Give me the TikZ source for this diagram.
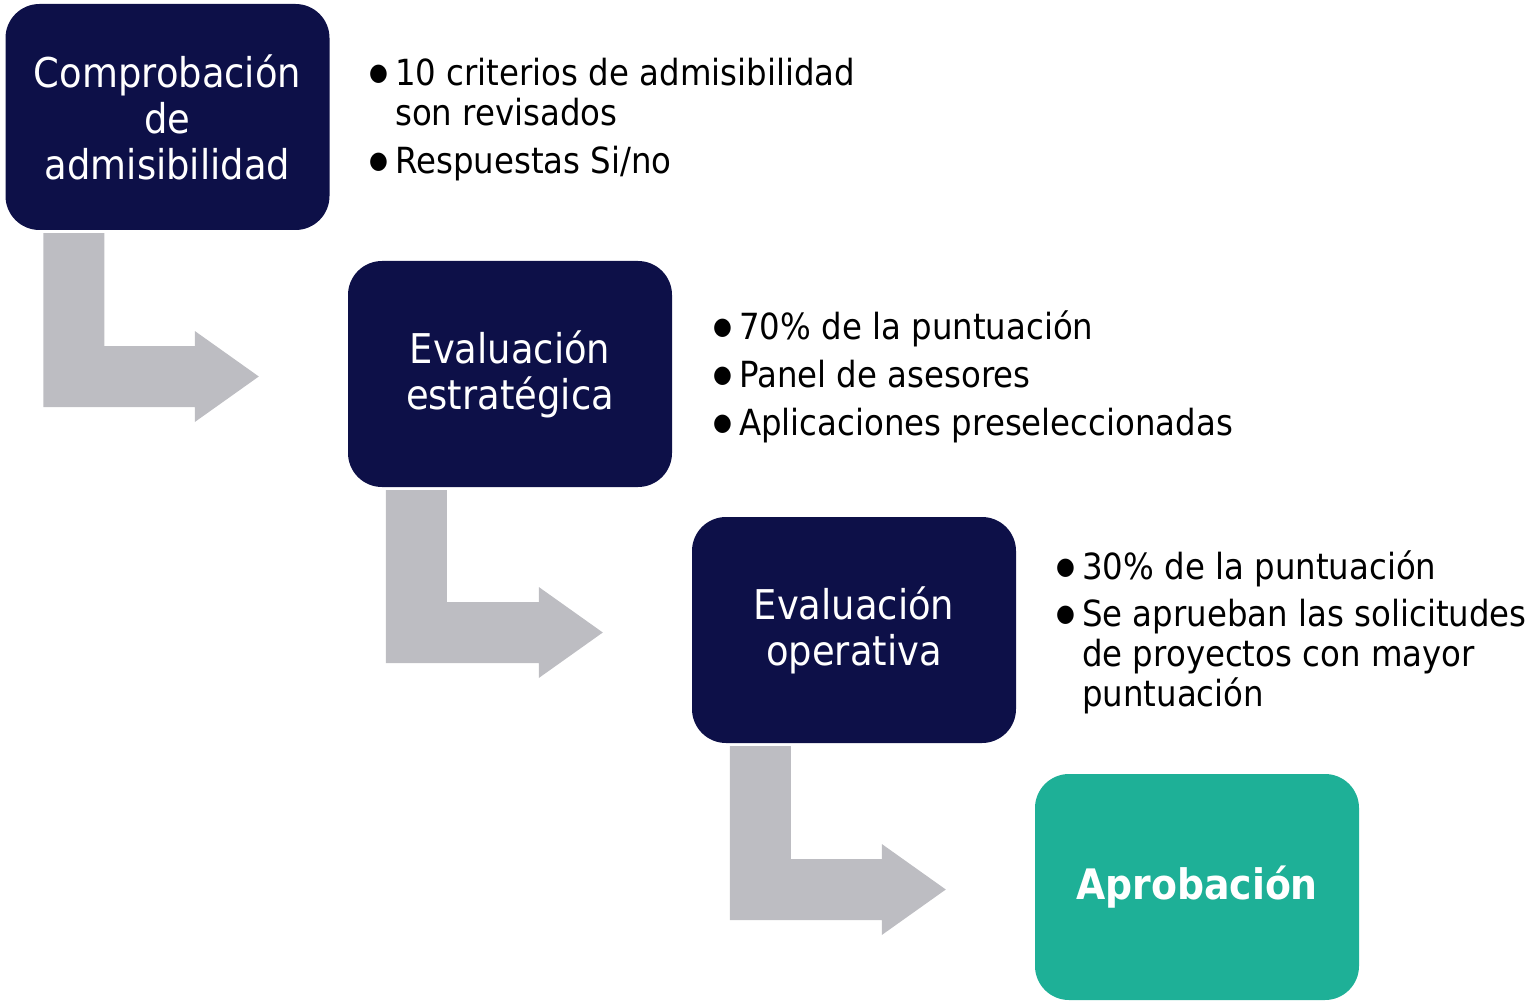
\documentclass[tikz,border=0pt]{standalone}
\usepackage{fontspec}
\setmainfont{DejaVu Sans}[FakeStretch=0.90]
\usetikzlibrary{calc}
\definecolor{boxnavy}{HTML}{0D1048}
\definecolor{aprgreen}{HTML}{1EB097}
\definecolor{arrgray}{HTML}{BDBDC2}
\newcommand{\bul}{\makebox[22pt][l]{\hspace{-4pt}\raisebox{5pt}{\fontsize{24}{24}\selectfont ●}}}
\begin{document}
\begin{tikzpicture}[x=1pt,y=-1pt,
  box/.style={rounded corners=34pt, minimum width=324pt, minimum height=226pt, inner sep=0pt, align=center, text=white, font=\fontsize{41}{46}\selectfont},
  lst/.style={anchor=base west, inner sep=0pt, font=\fontsize{36}{40}\selectfont},
  bent/.style={fill=arrgray}]
\useasboundingbox (0,0) rectangle (1537,1003);
\node[box, fill=boxnavy] (box0) at (167.5,117){Comprobación\\de\\admisibilidad};
\node[box, fill=boxnavy] (box1) at (510,374){Evaluación\\estratégica};
\node[box, fill=boxnavy] (box2) at (854,630){Evaluación\\operativa};
\node[box, fill=aprgreen, font=\bfseries\fontsize{42}{46}\selectfont] (box3) at (1197,887){Aprobación};
\node[lst] (lst0) at (373,86){\begin{tabular}[t]{@{}l@{}l@{}}\bul&10 criterios de admisibilidad\\&son revisados\\[8pt]\bul&Respuestas Si/no\end{tabular}};
\node[lst] (lst1) at (717,339){\begin{tabular}[t]{@{}l@{}l@{}}\bul&70\% de la puntuación\\[8pt]\bul&Panel de asesores\\[8pt]\bul&Aplicaciones preseleccionadas\end{tabular}};
\node[lst] (lst2) at (1060,579){\begin{tabular}[t]{@{}l@{}l@{}}\bul&30\% de la puntuación\\[7pt]\bul&Se aprueban las solicitudes\\&de proyectos con mayor\\&puntuación\end{tabular}};
\foreach \a/\b in {box0/box1, box1/box2, box2/box3}
  \fill[bent] ($(\a.south west)+(38,3)$) coordinate (s) -- ++(61,0) |- ($(\b.west)+(-153,-28)$) -- ++(0,-15) -- ($(\b.west)+(-89,2.5)$) -- ($(\b.west)+(-153,48)$) -- ++(0,-15) -| (s) -- cycle;
\end{tikzpicture}
\end{document}
